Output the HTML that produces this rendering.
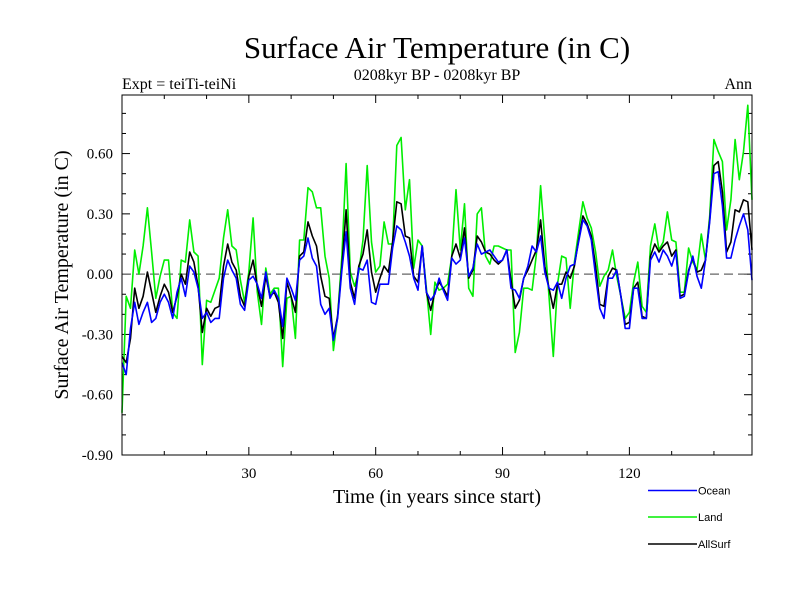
<!DOCTYPE html>
<html><head><meta charset="utf-8"><style>
body{margin:0;background:#fff}
svg{display:block}
.serif{font-family:"Liberation Serif",serif}
.sans{font-family:"Liberation Sans",sans-serif}
</style></head><body>
<svg id="chart" width="800" height="600" xmlns="http://www.w3.org/2000/svg">
<text class="serif" x="437" y="58" font-size="31" text-anchor="middle">Surface Air Temperature (in C)</text>
<text class="serif" x="437" y="80" font-size="16" text-anchor="middle">0208kyr BP - 0208kyr BP</text>
<text class="serif" x="122" y="89" font-size="16">Expt = teiTi-teiNi</text>
<text class="serif" x="752" y="89" font-size="16" text-anchor="end">Ann</text>
<text class="serif" x="0" y="0" font-size="20" text-anchor="middle" transform="translate(68,275) rotate(-90)">Surface Air Temperature (in C)</text>
<text class="serif" x="437" y="503" font-size="20" text-anchor="middle">Time (in years since start)</text>
<g id="axes"></g>
<g id="series"></g>
<rect x="122" y="95" width="630" height="360" fill="none" stroke="#000" stroke-width="1"/>
<g>
<line x1="648" y1="490.5" x2="697" y2="490.5" stroke="#0000ff" stroke-width="1.5"/>
<text class="sans" x="698" y="494.5" font-size="11">Ocean</text>
<line x1="648" y1="517" x2="697" y2="517" stroke="#00ee00" stroke-width="1.5"/>
<text class="sans" x="698" y="521" font-size="11">Land</text>
<line x1="648" y1="544" x2="697" y2="544" stroke="#000" stroke-width="1.5"/>
<text class="sans" x="698" y="548" font-size="11">AllSurf</text>
</g>
</svg>
<script>
const ocean=[-0.44,-0.50,-0.27,-0.14,-0.25,-0.19,-0.14,-0.24,-0.22,-0.14,-0.10,-0.14,-0.22,-0.09,-0.02,-0.11,0.04,0.01,-0.07,-0.22,-0.19,-0.24,-0.22,-0.22,-0.02,0.07,0.02,-0.02,-0.15,-0.18,-0.03,-0.01,-0.05,-0.12,0.01,-0.12,-0.08,-0.12,
-0.26,-0.02,-0.07,-0.13,0.07,0.09,0.18,0.08,0.04,-0.15,-0.20,-0.17,-0.33,-0.22,0.02,0.21,-0.07,-0.15,0.03,0.02,0.07,-0.14,-0.15,-0.05,-0.05,-0.05,0.13,0.24,0.22,0.16,0.09,-0.02,-0.08,0.14,-0.09,-0.13,-0.10,-0.02,
-0.08,-0.13,0.08,0.05,0.07,0.18,-0.01,0.03,0.15,0.10,0.11,0.12,0.09,0.06,0.07,0.12,-0.07,-0.08,-0.12,-0.02,0.04,0.14,0.11,0.19,0.01,-0.07,-0.08,-0.04,-0.12,-0.02,0.04,0.05,0.16,0.27,0.24,0.17,-0.01,
-0.17,-0.22,-0.02,-0.02,0.02,-0.11,-0.27,-0.27,-0.07,-0.07,-0.22,-0.22,0.07,0.11,0.06,0.12,0.09,0.04,0.11,-0.12,-0.11,0.01,0.09,-0.01,-0.07,0.07,0.26,0.50,0.51,0.34,0.08,0.08,0.17,0.24,0.30,0.22,-0.03];
const land=[-0.69,-0.11,-0.17,0.12,0.00,0.14,0.33,0.11,-0.12,-0.01,0.07,0.07,-0.19,-0.22,0.07,0.06,0.27,0.11,0.09,-0.45,-0.13,-0.14,-0.08,-0.02,0.18,0.32,0.14,0.12,-0.03,-0.14,0.01,0.28,-0.09,-0.25,0.03,-0.10,-0.07,-0.07,
-0.46,-0.12,-0.11,-0.32,0.17,0.17,0.43,0.41,0.33,0.33,0.09,-0.02,-0.38,-0.21,0.09,0.55,0.01,-0.06,0.01,0.17,0.54,0.16,0.01,0.04,0.26,0.15,0.15,0.64,0.68,0.32,0.47,0.03,0.17,0.14,-0.07,-0.30,-0.04,-0.08,
-0.07,-0.05,0.09,0.42,0.12,0.35,-0.07,-0.11,0.30,0.33,0.09,0.05,0.14,0.14,0.13,0.12,0.12,-0.39,-0.29,-0.07,-0.07,-0.08,0.10,0.44,0.17,-0.11,-0.41,-0.05,0.09,0.08,-0.17,0.06,0.21,0.36,0.28,0.23,0.11,
-0.06,-0.01,0.02,0.12,-0.01,-0.11,-0.22,-0.19,-0.04,0.06,-0.16,-0.19,0.14,0.25,0.12,0.16,0.31,0.17,0.16,-0.09,-0.09,0.13,0.06,0.02,0.20,0.07,0.29,0.67,0.61,0.56,0.22,0.37,0.67,0.47,0.61,0.84,0.37];
const allsurf=[-0.41,-0.44,-0.32,-0.07,-0.17,-0.11,0.01,-0.09,-0.19,-0.11,-0.05,-0.09,-0.19,-0.11,0.00,-0.05,0.11,0.06,-0.06,-0.29,-0.17,-0.21,-0.17,-0.16,0.04,0.15,0.06,0.02,-0.11,-0.16,-0.01,0.07,-0.06,-0.16,-0.01,-0.11,-0.09,-0.14,
-0.32,-0.04,-0.11,-0.19,0.09,0.11,0.26,0.19,0.14,-0.01,-0.11,-0.12,-0.32,-0.21,0.04,0.32,-0.04,-0.12,0.04,0.10,0.22,0.01,-0.09,-0.02,0.04,0.01,0.16,0.36,0.35,0.19,0.18,-0.01,-0.04,0.14,-0.09,-0.18,-0.09,-0.04,
-0.07,-0.11,0.09,0.15,0.08,0.23,-0.02,0.02,0.19,0.16,0.11,0.10,0.07,0.05,0.07,0.12,-0.03,-0.17,-0.13,-0.02,0.02,0.07,0.12,0.27,0.04,-0.07,-0.17,-0.05,-0.05,0.01,-0.02,0.04,0.17,0.29,0.25,0.19,0.04,
-0.15,-0.16,-0.01,0.03,0.02,-0.11,-0.25,-0.24,-0.07,-0.04,-0.21,-0.22,0.09,0.15,0.11,0.14,0.16,0.09,0.12,-0.11,-0.10,0.02,0.08,0.01,0.02,0.07,0.27,0.54,0.56,0.41,0.11,0.16,0.32,0.31,0.37,0.36,0.12];
const yTicks=[-0.90,-0.60,-0.30,0.00,0.30,0.60];
const xTicks=[30,60,90,120];

const L=122,R=752,T=95,B=455,XMIN=0,XMAX=149,YMIN=-0.9,YMAX=0.8915;
const sx=v=>L+(v-XMIN)/(XMAX-XMIN)*(R-L);
const sy=v=>B-(v-YMIN)/(YMAX-YMIN)*(B-T);
const NS='http://www.w3.org/2000/svg';
const axes=document.getElementById('axes'),ser=document.getElementById('series');
function mk(tag,attrs,parent){const e=document.createElementNS(NS,tag);for(const k in attrs)e.setAttribute(k,attrs[k]);parent.appendChild(e);return e;}
// y ticks (minor every 0.1)
for(let k=-9;k<=8;k++){
  const v=k/10,y=sy(v),major=(k%3===0);const len=major?8:4;
  const t1=mk('line',{x1:L,x2:L+len,y1:y,y2:y,stroke:'#000','stroke-width':1},axes);
  
  
  const t2=mk('line',{x1:R,x2:R-len,y1:y,y2:y,stroke:'#000','stroke-width':1},axes);
  
  
}
yTicks.forEach(v=>{
  const t=mk('text',{x:113,y:sy(v)+5,'font-size':15,'text-anchor':'end',class:'serif'},axes);
  t.textContent=v.toFixed(2);
  
  
});
// x ticks (minor every 10)
for(let v=10;v<=140;v+=10){
  const x=sx(v),major=(v%30===0),len=major?8:4;
  const t1=mk('line',{x1:x,x2:x,y1:B,y2:B-len,stroke:'#000','stroke-width':1},axes);
  
  
  const t2=mk('line',{x1:x,x2:x,y1:T,y2:T+len,stroke:'#000','stroke-width':1},axes);
  
  
}
xTicks.forEach(v=>{
  const t=mk('text',{x:sx(v),y:478,'font-size':15,'text-anchor':'middle',class:'serif'},axes);
  t.textContent=String(v);
  
  
});
const z=mk('line',{x1:L,x2:R,y1:sy(0),y2:sy(0),stroke:'#666','stroke-width':1.3,'stroke-dasharray':'9,5'},axes);


function draw(arr,color,name){
  const pts=arr.map((v,i)=>sx(i).toFixed(1)+','+sy(v).toFixed(1)).join(' ');
  const p=mk('polyline',{points:pts,fill:'none',stroke:color,'stroke-width':1.6,'stroke-linejoin':'round'},ser);
  
  
}
draw(land,'#00ee00','land-line');
draw(allsurf,'#000000','allsurf-line');
draw(ocean,'#0000ff','ocean-line');
</script>
</body></html>
